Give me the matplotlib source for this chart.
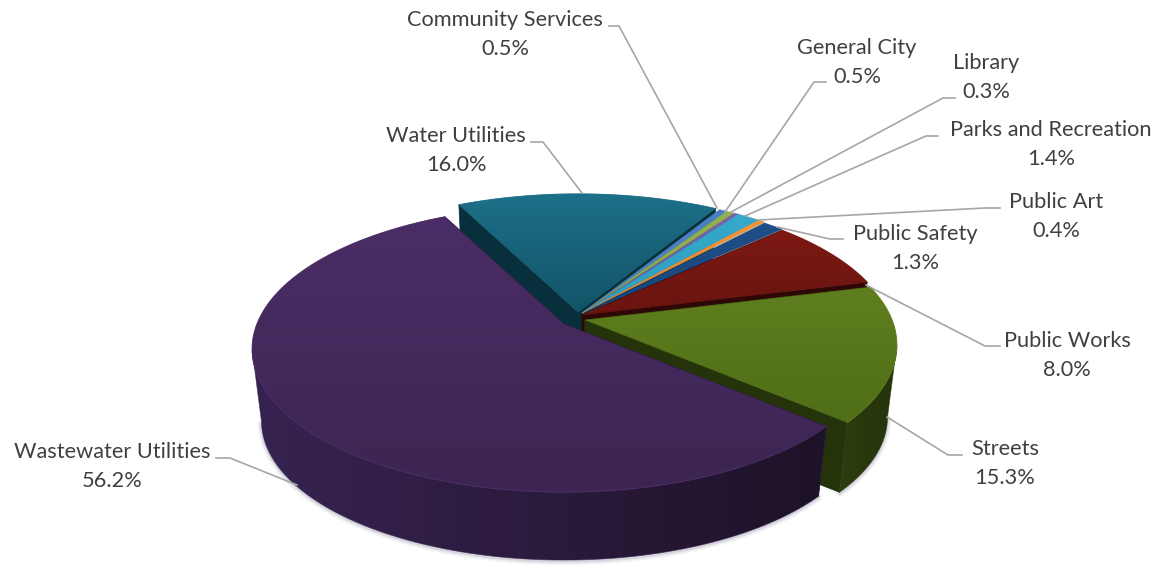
import numpy as np
import matplotlib
matplotlib.use('Agg')
import matplotlib.pyplot as plt
from matplotlib.patches import Polygon
from matplotlib.colors import LinearSegmentedColormap

# ==== DATA ====
departments = ['Community Services', 'General City', 'Library', 'Parks and Recreation',
               'Public Art', 'Public Safety', 'Public Works', 'Streets',
               'Wastewater Utilities', 'Water Utilities']
shares = [0.5, 0.5, 0.3, 1.4, 0.4, 1.3, 8.0, 15.3, 56.2, 16.0]

# ==== STYLE ====
top_hi = ['#4a7fc4', '#93b24e', '#7a63aa', '#35aacb', '#f0953c', '#1f4f88', '#7c1913', '#5f7f1f', '#4a2d66', '#1d7089']
top_lo = ['#4a7fc4', '#8aa948', '#7058a0', '#2f9cc0', '#e88a30', '#1a4478', '#6a1410', '#4f6e16', '#3c2552', '#125468']
wall_hi = ['#2c4f7c', '#55682c', '#453664', '#1f6076', '#8a5420', '#0f2a4a', '#2e0806', '#2c3d0e', '#372351', '#0c3d4c']
wall_lo = ['#2c4f7c', '#55682c', '#453664', '#1f6076', '#8a5420', '#0f2a4a', '#2e0806', '#25330b', '#1e1228', '#08303c']
# pixel shift of each slice away from the pie centre
shift_x = [-3, -3, -3, -3, -3, -3, -3, 0, -21, -7]
shift_y = [-7, -7, -7, -7, -7, -6, -5, 0, 4, -8]
draw_order = [9, 0, 1, 2, 3, 4, 5, 6, 7, 8]   # back to front

start_angle = 59
cx, cy = 585, 320      # projected centre of the top face
A, B, k = 307, 138.7, 0.175   # perspective terms
depth, shrink = 73, 0.97      # bottom face of the cylinder

# leader line vertices, one polyline per label
leaders = [[(609, 26), (619, 26), (717, 208)],
           [(826, 82), (814, 82), (725, 212)],
           [(955, 98), (943, 98), (731, 212)],
           [(938, 136), (926, 136), (745, 216)],
           [(1000, 208), (985, 208), (758, 220)],
           [(843, 239), (830, 239), (777, 227)],
           [(1000, 346), (985, 346), (866, 285)],
           [(962, 455), (948, 455), (887, 417)],
           [(216, 458), (230, 458), (297, 485)],
           [(531, 142), (543, 142), (582, 193)]]
label_x = [505, 857, 986, 1051, 1056, 915, 1067, 1005, 112, 456]
label_base = [26, 54, 69, 136, 208, 240, 347, 455, 458, 142]


def project(u, v, dx, dy, bottom=False):
    # unit disc to pixels, far side of the disc gets compressed
    u, v = np.asarray(u, float), np.asarray(v, float)
    w = 1 + k * v
    x = A * u / w
    y = -B * v / w
    if bottom:
        x = x * shrink
        y = y * shrink + depth
    return x + cx + dx, y + cy + dy


def grad_poly(ax, xs, ys, c1, c2, horizontal=False, z=1):
    # polygon filled with a linear gradient, image clipped to the outline
    pts = np.column_stack([xs, ys])
    cmap = LinearSegmentedColormap.from_list('g', [c1, c2])
    g = np.linspace(0, 1, 128)
    g = g.reshape(1, -1) if horizontal else g.reshape(-1, 1)
    x0, x1, y0, y1 = pts[:, 0].min(), pts[:, 0].max(), pts[:, 1].min(), pts[:, 1].max()
    im = ax.imshow(g, cmap=cmap, extent=(x0, x1, y1, y0), aspect='auto', zorder=z, vmin=0, vmax=1)
    patch = Polygon(pts, closed=True, transform=ax.transData, facecolor='none', edgecolor='none')
    ax.add_patch(patch)
    im.set_clip_path(patch)
    # thin outline hides the jagged clip edge
    ax.add_patch(Polygon(pts, closed=True, facecolor='none', edgecolor=c1 if horizontal else c2,
                         lw=0.5, alpha=0.7, zorder=z))


fig = plt.figure(figsize=(11.57, 5.65), dpi=100)
ax = fig.add_axes([0, 0, 1, 1])

total = sum(shares)
spans = [s / total * 360 for s in shares]
# slices run clockwise from the start angle
a_start = start_angle - np.concatenate([[0], np.cumsum(spans)[:-1]])
a_end = start_angle - np.cumsum(spans)

z = 1
for i in draw_order:
    t = np.radians(np.linspace(a_start[i], a_end[i], 300))
    dx, dy = shift_x[i], shift_y[i]
    tx, ty = project(np.cos(t), np.sin(t), dx, dy)
    bx, by = project(np.cos(t), np.sin(t), dx, dy, bottom=True)
    ax0, ay0 = project(0, 0, dx, dy)
    bx0, by0 = project(0, 0, dx, dy, bottom=True)
    front = np.sin(t) < -k   # part of the rim that faces the viewer

    if shares[i] > 2:
        # the two cut faces of the slice
        for ex, ey, bex, bey in [(tx[0], ty[0], bx[0], by[0]), (tx[-1], ty[-1], bx[-1], by[-1])]:
            ax.add_patch(Polygon([(ax0, ay0), (ex, ey), (bex, bey), (bx0, by0)], closed=True,
                                 facecolor=wall_lo[i], edgecolor=wall_lo[i], lw=0.5, zorder=z))
        z += 1
        if front.any():
            # soft shadow under the rim
            for lw, al in [(6, 0.05), (4, 0.08), (2, 0.14)]:
                ax.plot(bx[front], by[front] + 1, color='#55557a', lw=lw, alpha=al, zorder=z,
                        solid_capstyle='round')
            z += 1
            # outer wall
            grad_poly(ax, np.r_[tx[front], bx[front][::-1]], np.r_[ty[front], by[front][::-1]],
                      wall_hi[i], wall_lo[i], horizontal=True, z=z)
            z += 1

    grad_poly(ax, np.r_[ax0, tx], np.r_[ay0, ty], top_hi[i], top_lo[i], z=z)
    z += 1
    if shares[i] > 2:
        # lighter rim highlight along the top edge
        ax.plot(tx, ty, color=top_hi[i], lw=0.8, alpha=0.8, zorder=z)
        z += 1

for i, name in enumerate(departments):
    pts = np.array(leaders[i])
    ax.plot(pts[:, 0], pts[:, 1], color='#a6a6a6', lw=1.2, zorder=z + 1)
    ax.text(label_x[i], label_base[i], name, ha='center', va='baseline', family='Lato',
            fontsize=15.7, color='#404040', zorder=z + 2)
    ax.text(label_x[i], label_base[i] + 29, f'{shares[i]:.1f}%', ha='center', va='baseline', family='Lato',
            fontsize=15.7, color='#404040', zorder=z + 2)

ax.set_xlim(0, 1157)
ax.set_ylim(565, 0)
ax.axis('off')
fig.savefig('out.png', dpi=100, facecolor='white')
